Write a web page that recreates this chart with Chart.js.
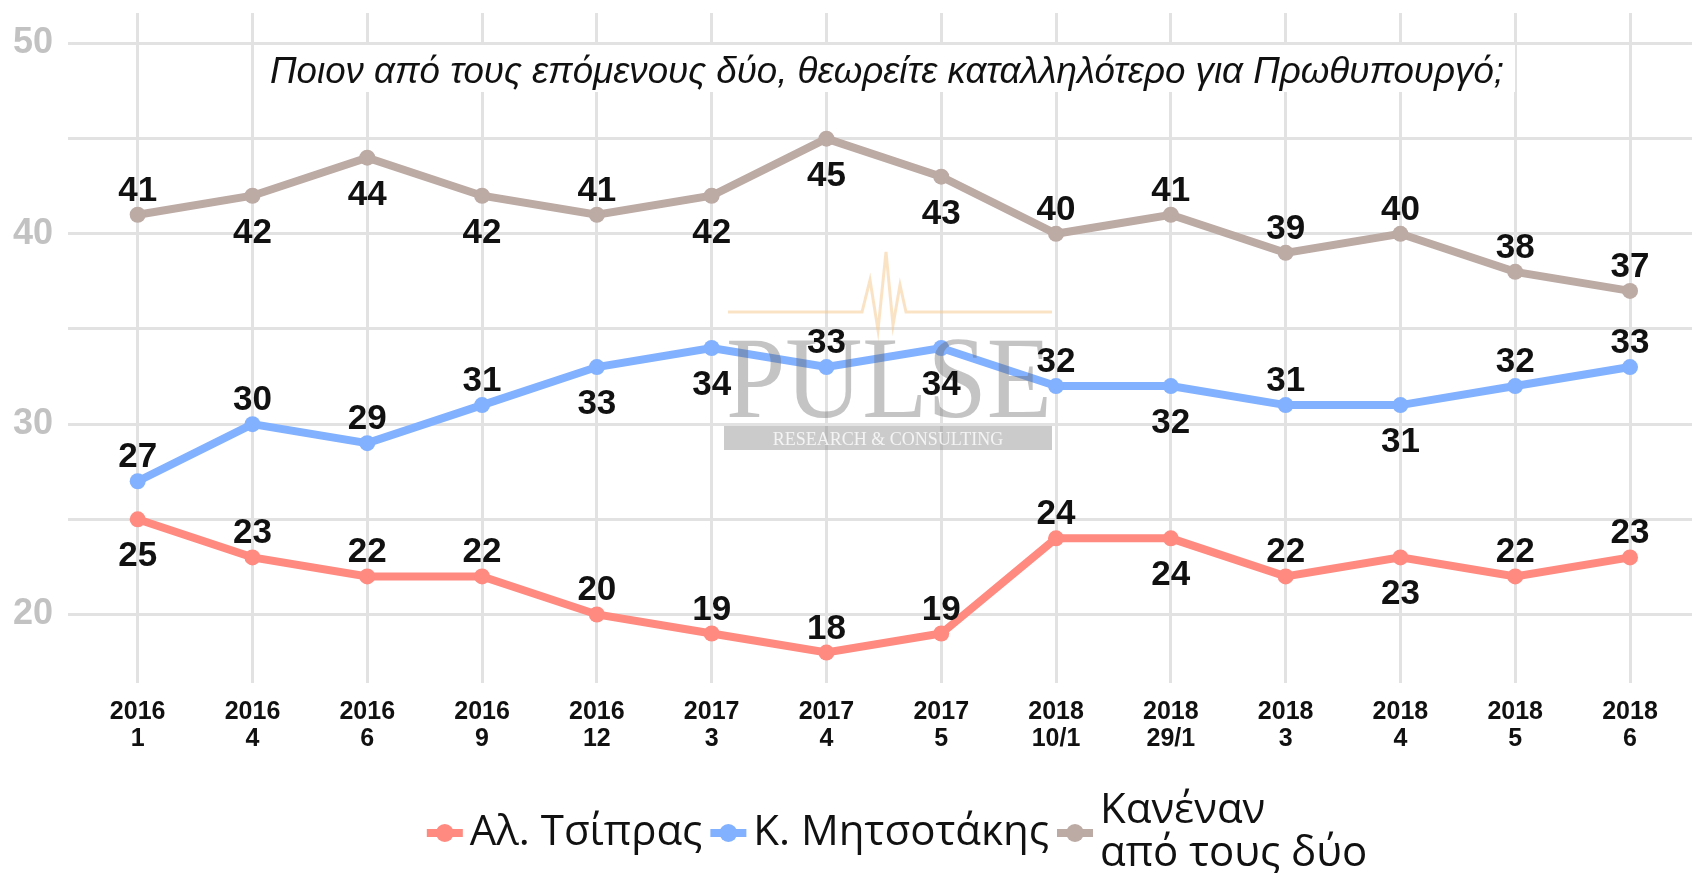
<!DOCTYPE html>
<html>
<head>
<meta charset="utf-8">
<script src="https://cdn.jsdelivr.net/npm/chart.js@4.4.1/dist/chart.umd.min.js"></script>
<style>
    html, body { margin: 0; background: #fff; }
    #wrap { width: 1700px; height: 873px; position: relative; }
</style>
</head>
<body>
<div id="wrap"><canvas id="pollChart"></canvas></div>
<script>
// δεδομένα δημοσκόπησης
const waves = [
    ['2016', '1'], ['2016', '4'], ['2016', '6'], ['2016', '9'], ['2016', '12'],
    ['2017', '3'], ['2017', '4'], ['2017', '5'],
    ['2018', '10/1'], ['2018', '29/1'], ['2018', '3'], ['2018', '4'], ['2018', '5'], ['2018', '6']
];
const tsipras    = [25, 23, 22, 22, 20, 19, 18, 19, 24, 24, 22, 23, 22, 23];
const mitsotakis = [27, 30, 29, 31, 33, 34, 33, 34, 32, 32, 31, 31, 32, 33];
const neither    = [41, 42, 44, 42, 41, 42, 45, 43, 40, 41, 39, 40, 38, 37];
const seriesNames = ['Αλ. Τσίπρας', 'Κ. Μητσοτάκης', 'Κανέναν\nαπό τους δύο'];
const yTicks = [20, 25, 30, 35, 40, 45, 50];
const subtitle = 'Ποιον από τους επόμενους δύο, θεωρείτε καταλληλότερο για Πρωθυπουργό;';

// θέση ετικέτας: u = πάνω, d = κάτω
const tsiprasPos    = ['d','u','u','u','u','u','u','u','u','d','u','d','u','u'];
const mitsotakisPos = ['u','u','u','u','d','d','u','d','u','d','u','d','u','u'];
const neitherPos    = ['u','d','d','d','u','d','d','d','u','u','u','u','u','u'];

const COLORS = ['#FF8A80', '#82B1FF', '#BCAAA4'];

function toPoints(arr) {
    return arr.map((v, i) => ({x: i, y: v}));
}

// 1. υδατογράφημα
const watermark = {
    id: 'watermark',
    afterDatasetsDraw(chart) {
        const ctx = chart.ctx;
        ctx.save();
        ctx.strokeStyle = 'rgba(245, 200, 140, 0.5)';
        ctx.lineWidth = 3;
        ctx.beginPath();
        const pulse = [[728,312],[862,312],[870,280],[878,330],[886,252],[893,325],[900,285],[906,312],[1052,312]];
        pulse.forEach((p, i) => i ? ctx.lineTo(p[0], p[1]) : ctx.moveTo(p[0], p[1]));
        ctx.stroke();

        ctx.fillStyle = 'rgba(100, 100, 100, 0.38)';
        ctx.font = '116px "Liberation Serif", serif';
        ctx.textAlign = 'left';
        ctx.textBaseline = 'alphabetic';
        const w = ctx.measureText('PULSE').width;
        ctx.save();
        ctx.translate(726, 417);
        ctx.scale(326 / w, 1);
        ctx.fillText('PULSE', 0, 0);
        ctx.restore();

        ctx.fillStyle = 'rgba(140, 140, 140, 0.45)';
        ctx.fillRect(724, 426, 328, 24);
        ctx.fillStyle = 'rgba(255, 255, 255, 0.8)';
        ctx.font = '18px "Liberation Serif", serif';
        ctx.textAlign = 'center';
        ctx.fillText('RESEARCH & CONSULTING', 888, 445);
        ctx.restore();
    }
};

// 2. ετικέτες τιμών
const valueLabels = {
    id: 'valueLabels',
    afterDatasetsDraw(chart) {
        const ctx = chart.ctx;
        ctx.save();
        ctx.font = 'bold 35px "Liberation Sans", Arial, sans-serif';
        ctx.fillStyle = '#111';
        ctx.textAlign = 'center';
        ctx.textBaseline = 'alphabetic';
        chart.data.datasets.forEach((ds, di) => {
            const meta = chart.getDatasetMeta(di);
            meta.data.forEach((pt, i) => {
                const up = ds.labelPos[i] === 'u';
                ctx.fillText(ds.data[i].y, pt.x, up ? pt.y - 14 : pt.y + 47);
            });
        });
        ctx.restore();
    }
};

// 3. υπότιτλος και υπόμνημα
const extras = {
    id: 'extras',
    afterDraw(chart) {
        const ctx = chart.ctx;
        ctx.save();
        ctx.fillStyle = '#fff';
        ctx.fillRect(262, 45, 1253, 47);
        ctx.fillStyle = '#111';
        ctx.font = 'italic 34px "Liberation Sans", Arial, sans-serif';
        const sw = ctx.measureText(subtitle).width;
        const size = 34 * 1233 / sw;
        ctx.font = 'italic ' + size.toFixed(1) + 'px "Liberation Sans", Arial, sans-serif';
        ctx.textAlign = 'left';
        ctx.textBaseline = 'alphabetic';
        ctx.fillText(subtitle, 270, 83);

        // υπόμνημα
        ctx.font = '42px "Open Sans", sans-serif';
        const keyW = 36, gap = 7, itemGap = 8, lineH = 43, cy = 833;
        const items = chart.data.datasets.map(ds => {
            const lines = ds.label.split('\n');
            const w = Math.max(...lines.map(l => ctx.measureText(l).width));
            return {lines, w, color: ds.borderColor};
        });
        const total = items.reduce((s, it) => s + keyW + gap + it.w, 0) + itemGap * (items.length - 1);
        let x = 897 - total / 2;
        ctx.textBaseline = 'middle';
        items.forEach(it => {
            ctx.strokeStyle = it.color;
            ctx.fillStyle = it.color;
            ctx.lineWidth = 8;
            ctx.beginPath();
            ctx.moveTo(x, cy);
            ctx.lineTo(x + keyW, cy);
            ctx.stroke();
            ctx.beginPath();
            ctx.arc(x + keyW / 2, cy, 9, 0, Math.PI * 2);
            ctx.fill();
            ctx.fillStyle = '#111';
            const y0 = cy - (it.lines.length - 1) * lineH / 2;
            it.lines.forEach((l, k) => ctx.fillText(l, x + keyW + gap, y0 + k * lineH));
            x += keyW + gap + it.w + itemGap;
        });
        ctx.restore();
    }
};

const ctx = document.getElementById('pollChart').getContext('2d');
new Chart(ctx, {
    type: 'line',
    data: {
        datasets: [
            {label: seriesNames[0], data: toPoints(tsipras), labelPos: tsiprasPos},
            {label: seriesNames[1], data: toPoints(mitsotakis), labelPos: mitsotakisPos},
            {label: seriesNames[2], data: toPoints(neither), labelPos: neitherPos}
        ].map((d, i) => Object.assign(d, {
            borderColor: COLORS[i],
            backgroundColor: COLORS[i],
            pointBackgroundColor: COLORS[i],
            borderWidth: 8,
            pointRadius: 8,
            pointBorderWidth: 0,
            tension: 0
        }))
    },
    options: {
        responsive: true,
        maintainAspectRatio: false,
        animation: false,
        layout: {padding: {top: 13, right: 0, left: 0, bottom: 110}},
        plugins: {
            legend: {display: false},
            tooltip: {enabled: false}
        },
        scales: {
            x: {
                type: 'linear',
                min: -0.607,
                max: 13.54,
                border: {display: false},
                grid: {color: '#e2e2e2', lineWidth: 3, drawTicks: false},
                afterBuildTicks: scale => { scale.ticks = waves.map((_, i) => ({value: i})); },
                afterFit: scale => {
                    scale.height = 80;
                    scale.paddingLeft = 0;
                    scale.paddingRight = 0;
                },
                ticks: {
                    padding: 16,
                    color: '#111',
                    font: {family: '"Liberation Sans Narrow", "Liberation Sans", sans-serif', size: 25, weight: 'bold', lineHeight: 1.08},
                    maxRotation: 0,
                    autoSkip: false,
                    callback: v => waves[v]
                }
            },
            y: {
                min: 16.4,
                max: 51.6,
                border: {display: false},
                grid: {color: '#e2e2e2', lineWidth: 3, drawTicks: false},
                afterBuildTicks: scale => { scale.ticks = yTicks.map(v => ({value: v})); },
                afterFit: scale => {
                    scale.width = 68;
                    scale.paddingTop = 0;
                    scale.paddingBottom = 0;
                },
                ticks: {
                    padding: 15,
                    color: '#c2c2c2',
                    font: {family: '"Liberation Sans", Arial, sans-serif', size: 36, weight: 'bold'},
                    callback: v => (v % 10 === 0 ? v : '')
                }
            }
        }
    },
    plugins: [watermark, valueLabels, extras]
});
</script>
</body>
</html>
